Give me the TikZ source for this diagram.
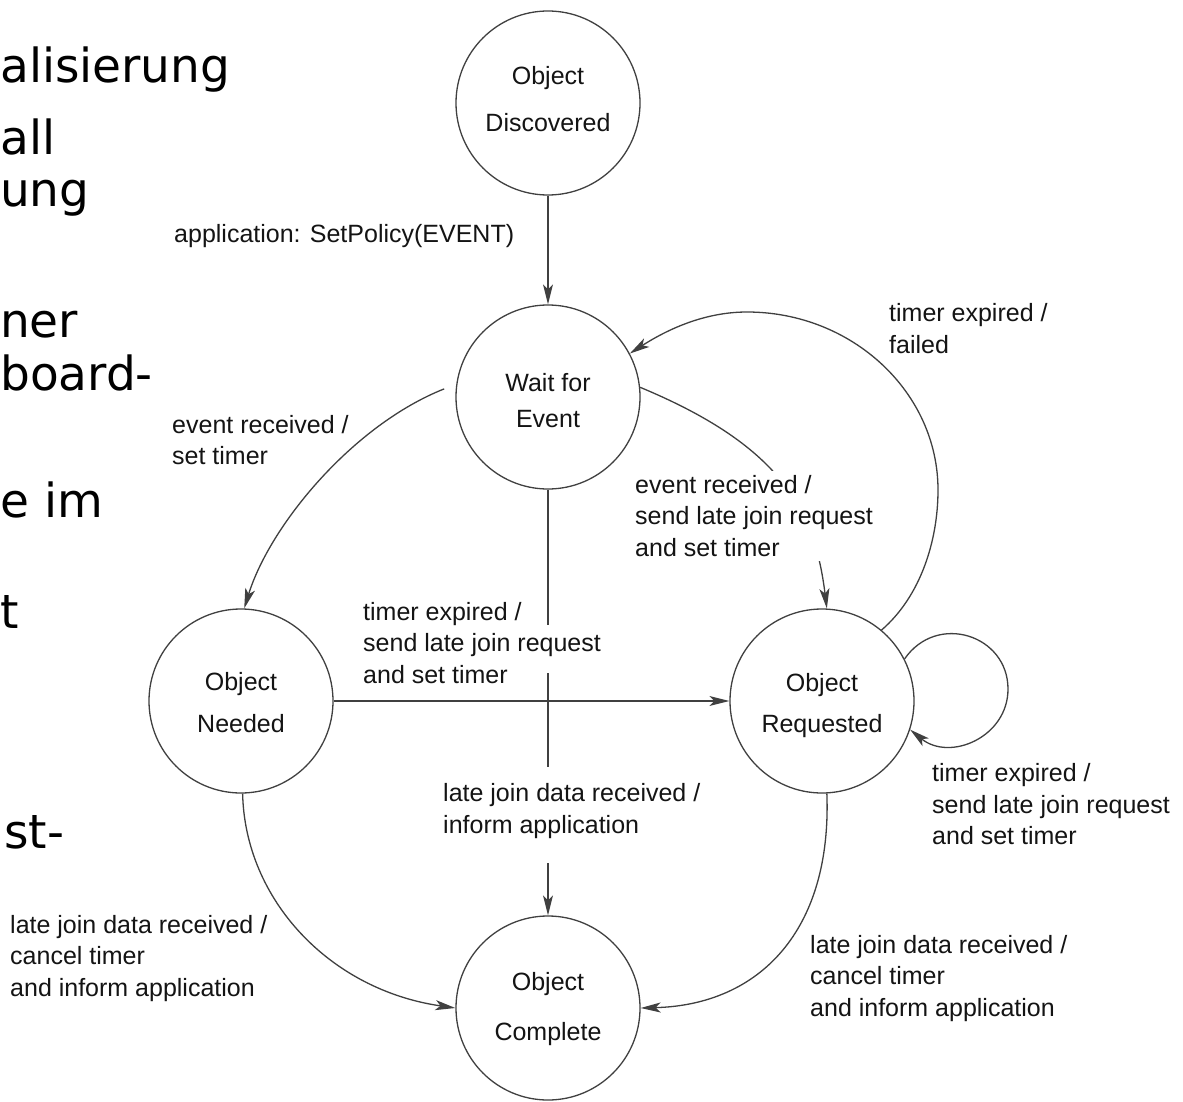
\documentclass[tikz,border=0pt]{standalone}
\usepackage{fontspec}
\setmainfont{Liberation Sans}
\newfontfamily\slidefont{DejaVu Sans}
\usetikzlibrary{arrows.meta}
\definecolor{linec}{gray}{0.25}
\definecolor{txt}{gray}{0.08}
\begin{document}
\begin{tikzpicture}[x=1pt,y=-1pt,
  state/.style={circle, draw=linec, line width=1.3pt, minimum size=184pt, inner sep=0pt, align=center, text=txt},
  lbl/.style={anchor=north west, inner sep=0pt, align=left, font=\fontsize{25}{31.5}\selectfont, text=txt},
  conn/.style={draw=linec, line width=1.3pt},
  arr/.style={conn, -{Stealth[length=20pt,width=10pt,inset=5pt]}},
  slide/.style={anchor=base west, inner sep=0pt, text=black, font=\slidefont\fontsize{47}{56}\selectfont}
]
\useasboundingbox (0,0) rectangle (1183,1102);
\fill[white] (0,0) rectangle (1183,1102);

% slide text fragments at the left edge
\node[slide] (s1) at (0,83) {alisierung};
\node[slide] (s2) at (0,155) {all};
\node[slide] (s3) at (0,207) {ung};
\node[slide] (s4) at (0,337) {ner};
\node[slide] (s5) at (0,390) {board-};
\node[slide] (s6) at (0,517) {e im};
\node[slide] (s7) at (0,628) {t};
\node[slide] (s8) at (4,848) {st-};

% states
\node[state, font=\fontsize{25}{47}\selectfont] (D) at (548,103) {Object\\Discovered\rule[-7.2pt]{0pt}{0pt}};
\node[state, font=\fontsize{25}{36.3}\selectfont] (W) at (548,397) {\rule{0pt}{25.7pt}Wait for\\Event};
\node[state, font=\fontsize{25}{41.7}\selectfont] (N) at (241,701) {\rule{0pt}{21.7pt}Object\\Needed};
\node[state, font=\fontsize{25}{41.7}\selectfont] (R) at (822,701) {\rule{0pt}{27pt}Object\\Requested};
\node[state, font=\fontsize{25}{50}\selectfont] (C) at (548,1008) {\rule{0pt}{19.2pt}Object\\Complete};

% helper coordinates
\coordinate (g1) at (548,625);
\coordinate (g2) at (548,673);
\coordinate (g3) at (548,767);
\coordinate (g4) at (548,863);
\coordinate (arcR) at (938,490);
\coordinate (arcT) at (747,312);
\coordinate (loopR) at (1008,689);

% connectors
\draw[arr] (D) -- (W);
\draw[arr, shorten <=13pt] (W.172) .. controls (353,425) and (270,525) .. (N.88);
\draw[arr] (W.6) .. controls (780,445.5) and (814.6,509) .. (R.87);
\draw[arr] (R.50) .. controls (921,596) and (938,540) .. (arcR)
   .. controls (938,392) and (852,312) .. (arcT)
   .. controls (705,312) and (668,329) .. (W.28);
\draw[arr] (R.27) .. controls (937,612) and (1008,635) .. (loopR)
   .. controls (1008,737) and (950,762) .. (R.-18);
\draw[arr] (N) -- (R);
\draw[arr] (W) -- (g1) (g2) -- (g3) (g4) -- (C);
\draw[arr] (N.-89) .. controls (245,900) and (330,990) .. (C.180);
\draw[arr] (R.-87) .. controls (832,930) and (760,1005) .. (C.0);

% labels
\node[lbl] (l1) at (174,223.8) {application: SetPolicy(EVENT)};
\node[lbl] (l2) at (889,303.5) {timer expired /\\failed};
\node[lbl] (l3) at (172,415) {event received /\\set timer};
\node[lbl, fill=white, inner sep=4pt] (l4) at (631,471) {event received /\\send late join request\\and set timer};
\node[lbl] (l5) at (363,602) {timer expired /\\send late join request\\and set timer};
\node[lbl] (l6) at (932,763.5) {timer expired /\\send late join request\\and set timer};
\node[lbl] (l7) at (443,783.5) {late join data received /\\inform application};
\node[lbl] (l8) at (10,915) {late join data received /\\cancel timer\\and inform application};
\node[lbl] (l9) at (810,935) {late join data received /\\cancel timer\\and inform application};
\end{tikzpicture}
\end{document}
